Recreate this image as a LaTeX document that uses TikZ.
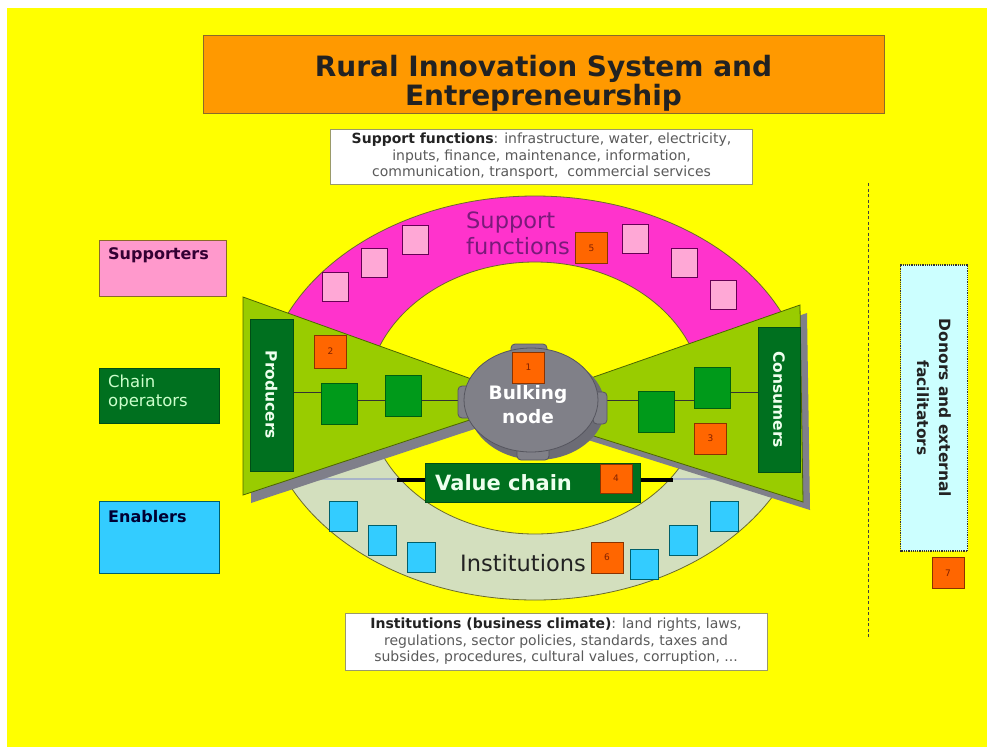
\documentclass[tikz,border=0pt]{standalone}
\usepackage{fontspec}
\setmainfont{DejaVu Sans}
\usetikzlibrary{shapes.geometric}
\pgfdeclarelayer{bglayer}
\pgfdeclarelayer{linelayer}
\pgfsetlayers{bglayer,linelayer,main}
\definecolor{bgyellow}{HTML}{FFFF00}
\definecolor{titleorange}{HTML}{FF9900}
\definecolor{titleborder}{HTML}{8A6A2A}
\definecolor{ringpink}{HTML}{FF33CC}
\definecolor{ringborder}{HTML}{6B6B2A}
\definecolor{sqpink}{HTML}{FFA8D6}
\definecolor{pinkborder}{HTML}{660055}
\definecolor{suppink}{HTML}{FF99CC}
\definecolor{ringgreen}{HTML}{D3DFBE}
\definecolor{trigreen}{HTML}{99CC00}
\definecolor{triborder}{HTML}{4D6600}
\definecolor{darkgreen}{HTML}{00701F}
\definecolor{sqgreen}{HTML}{009A1A}
\definecolor{sqgreenborder}{HTML}{005F10}
\definecolor{numorange}{HTML}{FF6600}
\definecolor{numborder}{HTML}{8A3300}
\definecolor{numtext}{HTML}{802000}
\definecolor{cyanbox}{HTML}{33CCFF}
\definecolor{cyanborder}{HTML}{005F6B}
\definecolor{donorcyan}{HTML}{CCFFFF}
\definecolor{shadowgrey}{HTML}{7F7F8A}
\definecolor{nodegrey}{HTML}{808088}
\definecolor{nodeborder}{HTML}{55555E}
\definecolor{purpletext}{HTML}{7A1A7A}
\definecolor{greytext}{HTML}{5A5A5A}
\definecolor{darktext}{HTML}{222222}
\definecolor{lightline}{HTML}{A8B4C8}
\definecolor{boxborder}{HTML}{9A9A6A}
\definecolor{suptext}{HTML}{330033}
\definecolor{enabtext}{HTML}{000033}
\definecolor{palegreen}{HTML}{CCFFCC}
\definecolor{whitegreen}{HTML}{EEFFEE}
\begin{document}
\begin{tikzpicture}[x=1pt,y=-1pt,
  numbox/.style={draw=numborder, fill=numorange, line width=0.8pt, minimum width=32pt, minimum height=31pt, inner sep=0pt, font=\fontsize{9}{9}\selectfont, text=numtext},
  pinksq/.style={draw=pinkborder, fill=sqpink, line width=0.8pt, minimum width=26pt, minimum height=29pt, inner sep=0pt},
  cyansq/.style={draw=cyanborder, fill=cyanbox, line width=0.8pt, minimum width=28pt, minimum height=30pt, inner sep=0pt},
  greensq/.style={draw=sqgreenborder, fill=sqgreen, line width=0.8pt, minimum width=36pt, minimum height=41pt, inner sep=0pt},
  dgbox/.style={fill=darkgreen, draw=darkgreen!70!black, line width=0.6pt, inner sep=0pt},
  textbox/.style={fill=white, draw=boxborder, line width=1pt, minimum width=422pt, inner sep=0pt, align=center, text=greytext, font=\fontsize{14}{16.5}\selectfont},
  chainline/.style={draw=black!80, line width=0.8pt},
  legendbox/.style={line width=0.8pt, inner sep=0pt, anchor=north west},
  lump/.style={fill=nodegrey, draw=nodeborder, line width=0.8pt, rounded corners=4pt, inner sep=0pt},
]
\useasboundingbox (0,0) rectangle (987,747);
\begin{pgfonlayer}{bglayer}
% background
\fill[white] (0,0) rectangle (987,747);
\fill[bgyellow] (7,8) rectangle (987,747);

% rings
\fill[ringpink, draw=ringborder, line width=0.8pt] (263,398) arc[start angle=180, end angle=360, x radius=272, y radius=202] -- (703,398) arc[start angle=360, end angle=180, x radius=168, y radius=136] -- cycle;
\fill[ringgreen, draw=ringborder, line width=0.8pt] (263,398) arc[start angle=180, end angle=0, x radius=272, y radius=202] -- (703,398) arc[start angle=0, end angle=180, x radius=168, y radius=136] -- cycle;

% value chain lines
\coordinate (vlA) at (297,479);
\coordinate (vlB) at (772,479);
\coordinate (vbA) at (397,480);
\coordinate (vbB) at (673,480);
\draw[lightline, line width=2.5pt] (vlA) -- (vlB);
\draw[black, line width=4pt] (vbA) -- (vbB);

% triangles with shadows
\fill[shadowgrey] (251,305) -- (538,408) -- (251,503) -- cycle;
\fill[shadowgrey] (807,313) -- (512,416) -- (810,510) -- cycle;
\filldraw[fill=trigreen, draw=triborder, line width=0.8pt] (243,297) -- (530,400) -- (243,495) -- cycle;
\filldraw[fill=trigreen, draw=triborder, line width=0.8pt] (800,305) -- (505,408) -- (803,502) -- cycle;
\end{pgfonlayer}

% title
\node[fill=titleorange, draw=titleborder, line width=1pt, minimum width=681pt, minimum height=78pt, inner sep=0pt] (titlebox) at (543.5,74) {};
\node[align=center, font=\bfseries\fontsize{28}{28.5}\selectfont, text=darktext, inner sep=0pt] (title) at (543.5,83.5) {Rural Innovation System and\\Entrepreneurship};

% support functions text box
\node[textbox, minimum height=55pt] (supbox) at (541.5,156.5) {{\bfseries\color{darktext}Support functions}: infrastructure, water, electricity,\\inputs, finance, maintenance, information,\\communication, transport,\ \ commercial services};

% institutions text box
\node[textbox, minimum height=57pt] (instbox) at (556,641.5) {{\bfseries\color{darktext}Institutions (business climate)}: land rights, laws,\\regulations, sector policies, standards, taxes and\\subsides, procedures, cultural values, corruption, ...};

% dashed separator
\coordinate (dashtop) at (868,183);
\coordinate (dashbot) at (868,637);
\draw[black!75, line width=0.9pt, dash pattern=on 3pt off 2.5pt] (dashtop) -- (dashbot);

% legend boxes
\node[legendbox, fill=suppink, draw=titleborder, minimum width=127pt, minimum height=56pt] (supporters) at (99,240) {};
\node[anchor=west, font=\bfseries\fontsize{16}{16}\selectfont, text=suptext, inner sep=0pt] (supporterstext) at (108,255) {Supporters};
\node[legendbox, fill=darkgreen, draw=darkgreen!70!black, minimum width=120pt, minimum height=55pt] (chainops) at (99,368) {};
\node[anchor=west, align=left, font=\fontsize{16.5}{19.5}\selectfont, text=palegreen, inner sep=0pt] (chainopstext) at (108,392.5) {Chain\\operators};
\node[legendbox, fill=cyanbox, draw=cyanborder, minimum width=120pt, minimum height=72pt] (enablers) at (99,501) {};
\node[anchor=west, font=\bfseries\fontsize{16}{16}\selectfont, text=enabtext, inner sep=0pt] (enablerstext) at (108,517) {Enablers};

% donors
\node[rotate=-90, fill=donorcyan, draw=black!80, line width=1.2pt, densely dotted, minimum width=286pt, minimum height=67pt, inner sep=0pt, align=center, font=\bfseries\fontsize{15.5}{22}\selectfont, text=darktext] (donors) at (934,408) {Donors and external\\facilitators};
\node[numbox] (n7) at (948,573) {7};

% ring labels
\node[anchor=north west, align=left, font=\fontsize{22.5}{26}\selectfont, text=purpletext, inner sep=0pt] (suplabel) at (466,212) {Support\\functions};
\node[numbox] (n5) at (591.5,248) {5};
\node[anchor=base west, font=\fontsize{22.5}{22.5}\selectfont, text=darktext, inner sep=0pt] (instlabel) at (460,571) {Institutions};
\node[numbox] (n6) at (607,557.5) {6};

% pink squares
\node[pinksq] (p1) at (335.5,287) {};
\node[pinksq] (p2) at (374.5,263) {};
\node[pinksq] (p3) at (415,239.5) {};
\node[pinksq] (p4) at (635.5,238.5) {};
\node[pinksq] (p5) at (684,263) {};
\node[pinksq] (p6) at (723,295) {};

% cyan squares
\node[cyansq] (c1) at (343,516.5) {};
\node[cyansq] (c2) at (382,540) {};
\node[cyansq] (c3) at (421.5,557) {};
\node[cyansq] (c4) at (644.5,564) {};
\node[cyansq] (c5) at (683.5,540) {};
\node[cyansq] (c6) at (724,516.5) {};

% producers / consumers
\node[dgbox, rotate=-90, minimum width=152pt, minimum height=43pt, font=\bfseries\fontsize{15.5}{15.5}\selectfont, text=whitegreen] (prod) at (271.5,395) {Producers};
\node[dgbox, rotate=-90, minimum width=145pt, minimum height=42pt, font=\bfseries\fontsize{15.5}{15.5}\selectfont, text=whitegreen] (cons) at (779,399.5) {Consumers};

% bulking node
\fill[shadowgrey!85!black] (537,407) ellipse[x radius=68, y radius=53];
\node[lump, minimum width=36pt, minimum height=14pt] (lumpT) at (529,351) {};
\node[lump, minimum width=14pt, minimum height=32pt] (lumpL) at (465,402) {};
\node[lump, minimum width=14pt, minimum height=32pt] (lumpR) at (600,408) {};
\node[lump, minimum width=32pt, minimum height=14pt] (lumpB) at (533,453) {};
\node[ellipse, fill=nodegrey, draw=nodeborder, line width=0.8pt, minimum width=134pt, minimum height=104pt, inner sep=0pt] (bulk) at (531,400) {};
\node[align=center, font=\bfseries\fontsize{18.5}{24}\selectfont, text=white, inner sep=0pt] (bulktext) at (528,405) {Bulking\\node};
\node[numbox] (n1) at (528.5,367.5) {1};

% chain squares
\node[greensq] (g1) at (339.5,403.5) {};
\node[greensq] (g2) at (403,395.5) {};
\node[greensq] (g3) at (656,412) {};
\node[greensq] (g4) at (712,387.5) {};

% chain links (drawn under the nodes)
\coordinate (yL) at (0,392);
\coordinate (yM) at (0,400);
\begin{pgfonlayer}{linelayer}
\draw[chainline] (prod |- yL) -- (g1 |- yL);
\draw[chainline] (g1 |- yM) -- (g2 |- yM);
\draw[chainline] (g2 |- yM) -- (bulk |- yM);
\draw[chainline] (bulk |- yM) -- (g3 |- yM);
\draw[chainline] (g3 |- yM) -- (g4 |- yM);
\draw[chainline] (g4 |- yL) -- (cons |- yL);
\end{pgfonlayer}

\node[numbox, minimum height=33pt] (n2) at (330.5,351.5) {2};
\node[numbox] (n3) at (710.5,438.5) {3};

% value chain box
\node[dgbox, minimum width=215pt, minimum height=39pt] (vc) at (532.5,482.5) {};
\node[anchor=base west, font=\bfseries\fontsize{21}{21}\selectfont, text=whitegreen, inner sep=0pt] (vctext) at (435,490) {Value chain};
\node[numbox, minimum height=29pt] (n4) at (616,478.5) {4};
\end{tikzpicture}
\end{document}
